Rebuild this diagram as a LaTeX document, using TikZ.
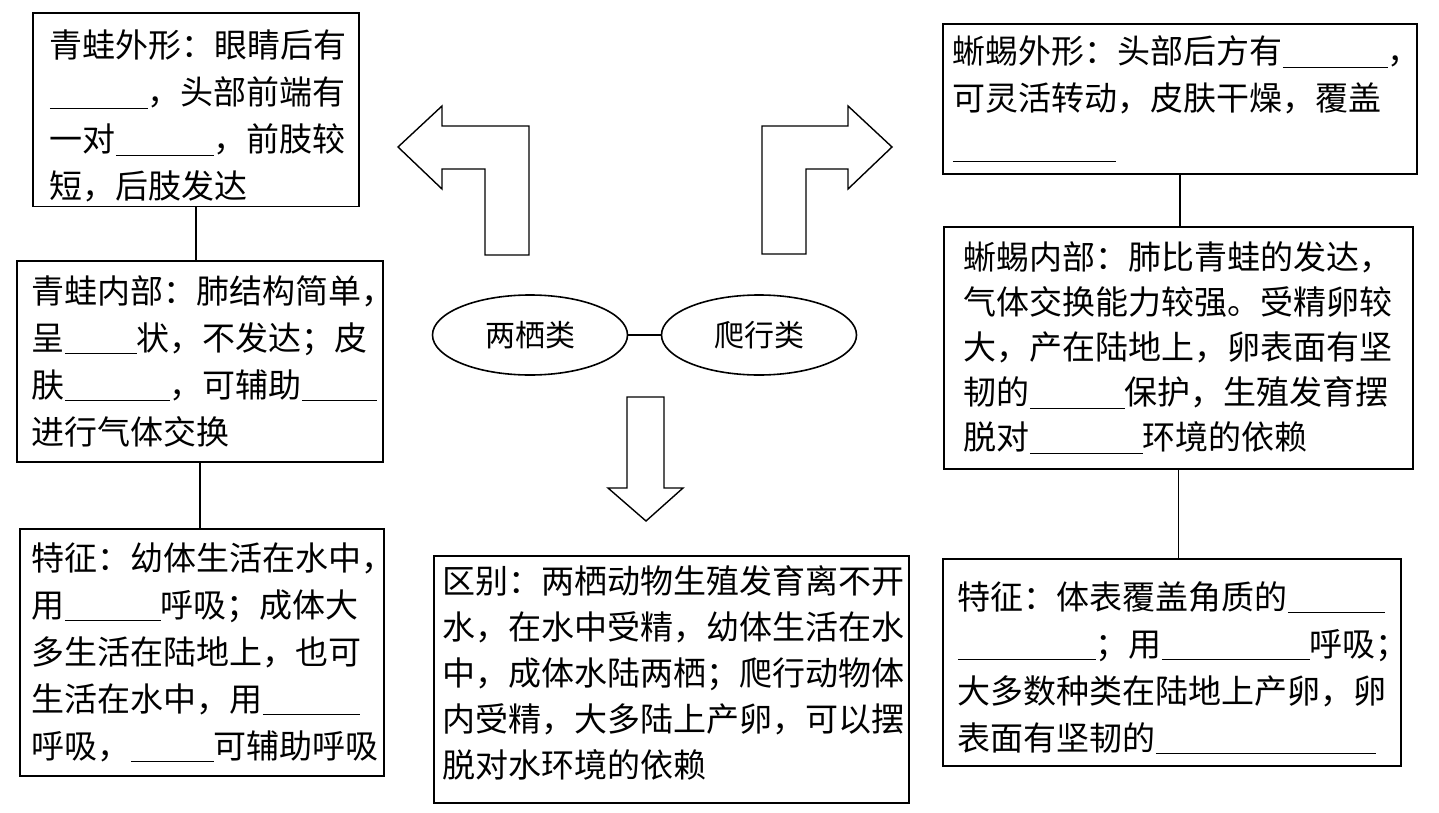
\documentclass[tikz,border=0pt]{standalone}
\usepackage{fontspec}
\setmainfont{Noto Sans CJK SC}
\usetikzlibrary{shapes.geometric}
\newcommand{\blank}[1]{\rule[-2pt]{#1}{0.6pt}}
\tikzset{%
  infobox/.style  = {shape=rectangle, draw, line width=0.8pt,%
                     anchor=north west, align=left, inner ysep=2pt,%
                     font=\fontsize{16.5pt}{23.5pt}\selectfont},%
  oval/.style     = {ellipse, draw, line width=0.8pt, inner sep=0pt,%
                     minimum width=97.5pt, minimum height=40pt,%
                     font=\fontsize{15pt}{17pt}\selectfont},%
  bigarrow/.style = {draw, line width=0.7pt, line join=miter}%
}
\begin{document}
\begin{tikzpicture}[x=0.5pt,y=-0.5pt]
  \useasboundingbox (0,0) rectangle (1439,813);
  % left column: frog
  \node[infobox, text width=146pt, inner xsep=8.5pt, minimum height=94.5pt] (frogout) at (32,12)
    {\rule{0pt}{20.5pt}青蛙外形：眼睛后有\\\blank{49pt}，头部前端有\\一对\blank{49pt}，前肢较\\短，后肢发达};
  \node[infobox, text width=168pt, inner xsep=7.5pt, minimum height=100.5pt] (froginn) at (16,260)
    {青蛙内部：肺结构简单，\\呈\blank{36pt}状，不发达；皮\\肤\blank{52.5pt}，可辅助\blank{37.5pt}\\进行气体交换};
  \node[infobox, text width=170pt, inner xsep=6pt, minimum height=123.5pt] (frogfeat) at (19,528)
    {特征：幼体生活在水中，\\用\blank{48pt}呼吸；成体大\\多生活在陆地上，也可\\生活在水中，用\blank{48.5pt}\\呼吸，\blank{41.5pt}可辅助呼吸};
  \draw[line width=0.8pt] (frogout.south) -- (frogout.south |- froginn.north);
  \draw[line width=0.8pt] (froginn.south) -- (froginn.south |- frogfeat.north);
  % right column: lizard
  \node[infobox, text width=227pt, inner xsep=5pt, minimum height=75pt] (lizout) at (942,23)
    {蜥蜴外形：头部后方有\blank{52.5pt}，\\可灵活转动，皮肤干燥，覆盖\\\blank{81.5pt}};
  \node[infobox, text width=214.5pt, inner xsep=10pt, minimum height=121pt,
        font=\fontsize{16.5pt}{22.5pt}\selectfont] (lizinn) at (943,226)
    {蜥蜴内部：肺比青蛙的发达，\\气体交换能力较强。受精卵较\\大，产在陆地上，卵表面有坚\\韧的\blank{47.5pt}保护，生殖发育摆\\脱对\blank{56.5pt}环境的依赖};
  \node[infobox, text width=214pt, inner xsep=7.5pt, minimum height=103.5pt] (lizfeat) at (942,558)
    {\rule{0pt}{19.5pt}特征：体表覆盖角质的\blank{48.5pt}\\\blank{69pt}；用\blank{74pt}呼吸；\\大多数种类在陆地上产卵，卵\\表面有坚韧的\blank{110pt}};
  \draw[line width=0.8pt] (lizout.south) -- (lizout.south |- lizinn.north);
  \draw[line width=0.8pt] (lizinn.south) -- (lizinn.south |- lizfeat.north);
  % centre
  \node[oval] (amph) at (530,335) {两栖类};
  \node[oval] (rept) at (759,335) {爬行类};
  \draw[line width=0.8pt] (amph) -- (rept);
  \node[infobox, text width=228.5pt, inner xsep=4.5pt, minimum height=123.5pt,
        font=\fontsize{16.5pt}{23pt}\selectfont] (diff) at (433,555)
    {区别：两栖动物生殖发育离不开\\水，在水中受精，幼体生活在水\\中，成体水陆两栖；爬行动物体\\内受精，大多陆上产卵，可以摆\\脱对水环境的依赖\rule[-8pt]{0pt}{8pt}};
  \draw[bigarrow] (398,147) -- (442,106) -- (442,126) -- (529,126) -- (529,255)
    -- (485,255) -- (485,169) -- (442,169) -- (442,189) -- cycle;
  \draw[bigarrow] (892,147) -- (848,106) -- (848,126) -- (762,126) -- (762,254)
    -- (806,254) -- (806,169) -- (848,169) -- (848,189) -- cycle;
  \draw[bigarrow] (627,397) -- (664,397) -- (664,488) -- (683,488) -- (646,521)
    -- (608,488) -- (627,488) -- cycle;
\end{tikzpicture}
\end{document}
